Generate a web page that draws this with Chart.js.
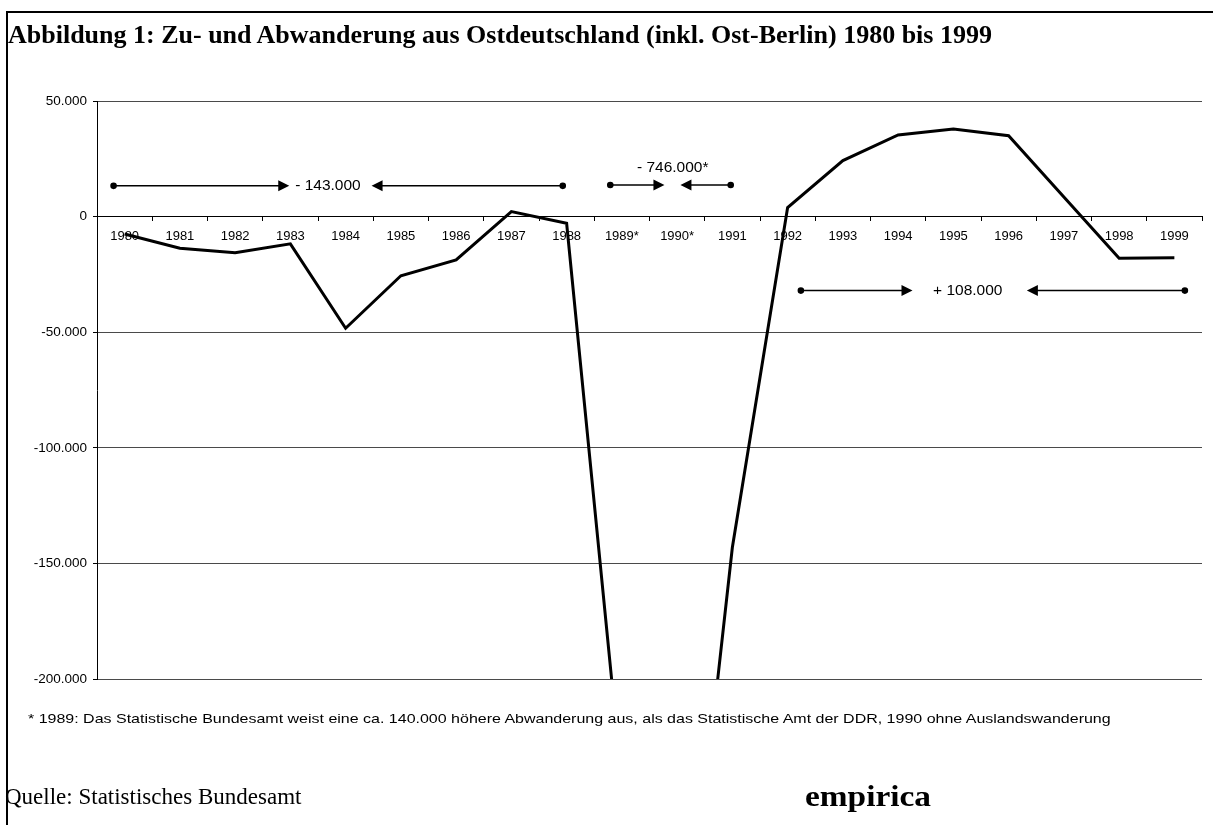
<!DOCTYPE html>
<html lang="de">
<head>
<meta charset="utf-8">
<title>Zu- und Abwanderung Ostdeutschland</title>
<script src="https://cdn.jsdelivr.net/npm/chart.js@4.4.1/dist/chart.umd.min.js"></script>
<style>
	body { margin: 0; background: #fff; }
	#page { position: relative; width: 1213px; height: 825px; overflow: hidden; background: #fff; }
	#frame { position: absolute; left: 6px; top: 11px; width: 1220px; height: 830px; border-top: 2px solid #000; border-left: 2px solid #000; }
	#chart { position: absolute; left: 0; top: 0; }
	.txt { position: absolute; white-space: nowrap; color: #000; transform-origin: 0 50%; }
	#title { left: 8px; top: 20px; font: bold 26px "Liberation Serif", "Times New Roman", serif; line-height: 30px; }
	#note { left: 28px; top: 711px; font: 13px "Liberation Sans", Arial, sans-serif; line-height: 16px; transform: scaleX(1.23); }
	#source { left: 5px; top: 784px; font: 23px "Liberation Serif", "Times New Roman", serif; line-height: 26px; }
	#brand { left: 805px; top: 780px; font: bold 29px "Liberation Serif", "Times New Roman", serif; line-height: 32px; transform: scaleX(1.15); }
</style>
</head>
<body>
<div id="page">
	<div id="frame"></div>
	<canvas id="chart" width="1213" height="825"></canvas>
	<div class="txt" id="title">Abbildung 1: Zu- und Abwanderung aus Ostdeutschland (inkl. Ost-Berlin) 1980 bis 1999</div>
	<div class="txt" id="note">* 1989: Das Statistische Bundesamt weist eine ca. 140.000 höhere Abwanderung aus, als das Statistische Amt der DDR, 1990 ohne Auslandswanderung</div>
	<div class="txt" id="source">Quelle: Statistisches Bundesamt</div>
	<div class="txt" id="brand">empirica</div>
</div>
<script>
const years = ["1980", "1981", "1982", "1983", "1984", "1985", "1986", "1987", "1988", "1989*",
	"1990*", "1991", "1992", "1993", "1994", "1995", "1996", "1997", "1998", "1999"];

// Wanderungssaldo (Personen)
const netMigration = [-7500, -13700, -15600, -11800, -48300, -25600, -18700, 2200, -2900, -245000,
	-358000, -143000, 3900, 24200, 35300, 37900, 35000, 8500, -18000, -17800];

const yTicks = [50000, 0, -50000, -100000, -150000, -200000];

// Periodensummen: Beschriftung, Punkt links, Pfeilspitze, Text, Pfeilspitze, Punkt rechts (Kategorie-Index), Höhe
const spanLabels = ["- 143.000", "- 746.000*", "+ 108.000"];
const spanStart = [-0.2, 8.79, 12.24];
const spanTipLeft = [2.98, 9.77, 14.26];
const spanTextAt = [3.68, 9.92, 15.26];
const spanTipRight = [4.47, 10.06, 16.33];
const spanEnd = [7.93, 10.97, 19.19];
const spanLevel = [13300, 13700, -32000];
const spanTextLevel = [13300, 21200, -32000];

function formatDE(v) {
	const s = Math.abs(v).toString().replace(/\B(?=(\d{3})+(?!\d))/g, ".");
	return (v < 0 ? "-" : "") + s;
}

const spanPlugin = {
	id: "spans",
	afterDatasetsDraw(chart) {
		const ctx = chart.ctx;
		const x = chart.scales.x;
		const y = chart.scales.y;
		ctx.save();
		ctx.strokeStyle = "#000";
		ctx.fillStyle = "#000";
		ctx.lineWidth = 1.5;
		ctx.font = "15.5px 'Liberation Sans', Arial, sans-serif";
		ctx.textAlign = "center";
		ctx.textBaseline = "middle";
		for (let i = 0; i < spanLabels.length; i++) {
			const yy = y.getPixelForValue(spanLevel[i]);
			const x0 = x.getPixelForValue(spanStart[i]);
			const x1 = x.getPixelForValue(spanTipLeft[i]);
			const x2 = x.getPixelForValue(spanTipRight[i]);
			const x3 = x.getPixelForValue(spanEnd[i]);
			// linker Pfeil
			ctx.beginPath();
			ctx.moveTo(x0, yy);
			ctx.lineTo(x1 - 10, yy);
			ctx.stroke();
			ctx.beginPath();
			ctx.moveTo(x1, yy);
			ctx.lineTo(x1 - 11, yy - 5.5);
			ctx.lineTo(x1 - 11, yy + 5.5);
			ctx.closePath();
			ctx.fill();
			// rechter Pfeil
			ctx.beginPath();
			ctx.moveTo(x3, yy);
			ctx.lineTo(x2 + 10, yy);
			ctx.stroke();
			ctx.beginPath();
			ctx.moveTo(x2, yy);
			ctx.lineTo(x2 + 11, yy - 5.5);
			ctx.lineTo(x2 + 11, yy + 5.5);
			ctx.closePath();
			ctx.fill();
			// Punkte
			ctx.beginPath();
			ctx.arc(x0, yy, 3.3, 0, Math.PI * 2);
			ctx.arc(x3, yy, 3.3, 0, Math.PI * 2);
			ctx.fill();
			ctx.fillText(spanLabels[i], x.getPixelForValue(spanTextAt[i]), y.getPixelForValue(spanTextLevel[i]));
		}
		ctx.restore();
	}
};

const migration = document.querySelector("#chart");

new Chart(migration, {
	type: "line",
	data: {
		labels: years,
		datasets: [{
			label: "Wanderungssaldo",
			data: netMigration,
			borderColor: "#000",
			borderWidth: 3,
			pointRadius: 0,
			tension: 0,
			clip: 0,
			fill: false
		}]
	},
	options: {
		responsive: false,
		animation: false,
		events: [],
		layout: {
			padding: { left: 0, right: 11, top: 101, bottom: 146 }
		},
		plugins: {
			legend: { display: false },
			tooltip: { enabled: false }
		},
		scales: {
			x: {
				type: "category",
				position: { y: 0 },
				offset: true,
				grid: {
					offset: true,
					drawOnChartArea: false,
					drawTicks: true,
					tickLength: 4,
					color: "#000"
				},
				border: { display: true, color: "#000", width: 1 },
				ticks: {
					color: "#000",
					padding: 8,
					maxRotation: 0,
					autoSkip: false,
					font: { family: "'Liberation Sans', Arial, sans-serif", size: 13 }
				}
			},
			y: {
				min: -200000,
				max: 50000,
				afterFit(scale) {
					scale.width = 97;
				},
				afterBuildTicks(scale) {
					scale.ticks = yTicks.map(v => ({ value: v }));
				},
				grid: {
					color: "#4a4a4a",
					lineWidth: 1,
					drawTicks: true,
					tickLength: 4,
					tickColor: "#000"
				},
				border: { display: true, color: "#000", width: 1 },
				ticks: {
					color: "#000",
					padding: 6,
					font: { family: "'Liberation Sans', Arial, sans-serif", size: 13.5 },
					callback: function (value) {
						return formatDE(value);
					}
				}
			}
		}
	},
	plugins: [spanPlugin]
});
</script>
</body>
</html>
